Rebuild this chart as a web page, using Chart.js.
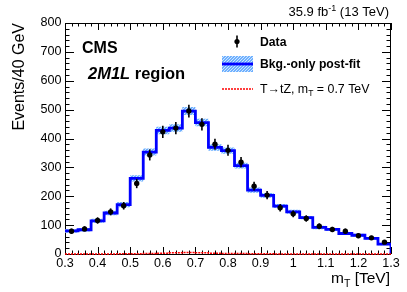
<!DOCTYPE html>
<html>
<head>
<meta charset="utf-8">
<script src="https://cdn.jsdelivr.net/npm/chart.js@4.4.1/dist/chart.umd.min.js"></script>
<style>
  html, body { margin: 0; padding: 0; background: #fff; }
</style>
</head>
<body>
<canvas id="mtChart" width="407" height="292"></canvas>
<script>
// bin edges of the m_T histogram (TeV), 40 GeV wide
const binEdges = [0.30, 0.34, 0.38, 0.42, 0.46, 0.50, 0.54, 0.58, 0.62, 0.66, 0.70, 0.74, 0.78,
                  0.82, 0.86, 0.90, 0.94, 0.98, 1.02, 1.06, 1.10, 1.14, 1.18, 1.22, 1.26, 1.30];
// background-only post-fit prediction, events per bin
const bkgValues = [80, 84, 115, 142, 171, 262, 353, 428, 436, 495, 455, 369, 358, 306, 221,
                   203, 166, 146, 126, 92, 85, 71, 65, 54, 34];
// half-width of the post-fit uncertainty band
const bkgUnc = [6, 6, 7, 8, 9, 11, 12, 13, 13, 14, 13, 11, 11, 10, 9, 8, 7, 7, 6, 6, 5, 5, 5, 4, 4];
// observed data
const dataValues = [79, 87, 116, 146, 167, 244, 343, 423, 436, 495, 449, 380, 359, 318, 235,
                    204, 160, 139, 123, 96, 85, 79, 63, 56, 41];
const dataErrors = [9, 9, 11, 12, 13, 16, 19, 21, 21, 22, 21, 19, 19, 18, 15, 14, 13, 12, 11, 10, 9, 9, 8, 7, 6];
// T -> tZ signal, m_T = 0.7 TeV
const signalValues = [0, 0, 0, 0, 0.5, 1, 2, 3, 4, 5, 4, 3, 2, 1.5, 1, 0.5, 0.3, 0.2, 0.1, 0, 0, 0, 0, 0, 0];

const xTickLabels = ['0.3', '0.4', '0.5', '0.6', '0.7', '0.8', '0.9', '1', '1.1', '1.2', '1.3'];
const yTickLabels = ['0', '100', '200', '300', '400', '500', '600', '700', '800'];

const FONT = '"Liberation Sans", Arial, Helvetica, sans-serif';
const SIG_RED = 'rgb(255, 0, 0)';

function stepPoints(vals) {
  const pts = vals.map((v, i) => ({ x: binEdges[i], y: v }));
  pts.push({ x: binEdges[binEdges.length - 1], y: vals[vals.length - 1] });
  return pts;
}

function makePattern() {
  const c = document.createElement('canvas');
  c.width = 3; c.height = 3;
  const g = c.getContext('2d');
  g.fillStyle = '#6eb0ff';
  g.fillRect(0, 0, 3, 3);
  g.fillStyle = '#cfe6ff';
  g.fillRect(0, 0, 1, 1);
  g.fillRect(2, 1, 1, 1);
  g.fillRect(1, 2, 1, 1);
  return g.createPattern(c, 'repeat');
}
const bandPattern = makePattern();

// draw a run of text pieces (for sub/superscripts)
function drawParts(ctx, parts, x, y, align) {
  let total = 0;
  parts.forEach(p => { ctx.font = p.font; total += ctx.measureText(p.t).width; });
  let cx = align === 'right' ? x - total : x;
  ctx.textAlign = 'left';
  ctx.textBaseline = 'alphabetic';
  parts.forEach(p => {
    ctx.font = p.font;
    ctx.fillText(p.t, cx, y + (p.dy || 0));
    cx += ctx.measureText(p.t).width;
  });
}

const decorPlugin = {
  id: 'rootStyle',
  beforeDatasetsDraw(chart) {
    // frame and inward ticks go under the histograms
    const ctx = chart.ctx;
    const a = chart.chartArea;
    const xs = chart.scales.x, ys = chart.scales.y;
    ctx.save();
    ctx.strokeStyle = '#000';
    ctx.lineWidth = 1;
    ctx.strokeRect(a.left + 0.5, a.top + 0.5, a.right - a.left - 1, a.bottom - a.top);

    for (let k = 0; k <= 50; k++) {
      const v = 0.3 + k * 0.02;
      const px = Math.round(xs.getPixelForValue(v)) + 0.5;
      const len = k % 5 === 0 ? 7 : 3.5;
      ctx.beginPath();
      ctx.moveTo(px, a.bottom); ctx.lineTo(px, a.bottom - len);
      ctx.moveTo(px, a.top); ctx.lineTo(px, a.top + len);
      ctx.stroke();
    }
    for (let k = 0; k <= 40; k++) {
      const v = k * 20;
      const py = Math.round(ys.getPixelForValue(v)) + 0.5;
      const len = k % 5 === 0 ? 9 : 4.5;
      ctx.beginPath();
      ctx.moveTo(a.left, py); ctx.lineTo(a.left + len, py);
      ctx.moveTo(a.right, py); ctx.lineTo(a.right - len, py);
      ctx.stroke();
    }
    ctx.restore();
  },
  afterDatasetsDraw(chart) {
    const ctx = chart.ctx;
    const xs = chart.scales.x, ys = chart.scales.y;
    // data error bars
    ctx.save();
    ctx.strokeStyle = '#000';
    ctx.lineWidth = 1.6;
    dataValues.forEach((v, i) => {
      const px = xs.getPixelForValue((binEdges[i] + binEdges[i + 1]) / 2);
      ctx.beginPath();
      ctx.moveTo(px, ys.getPixelForValue(v - dataErrors[i]));
      ctx.lineTo(px, ys.getPixelForValue(v + dataErrors[i]));
      ctx.stroke();
    });
    ctx.restore();
  },
  afterDraw(chart) {
    const ctx = chart.ctx;
    const xs = chart.scales.x, ys = chart.scales.y;
    ctx.save();
    ctx.fillStyle = '#000';

    // tick labels
    ctx.font = '12.6px ' + FONT;
    ctx.textAlign = 'center';
    ctx.textBaseline = 'alphabetic';
    xTickLabels.forEach(t => {
      ctx.fillText(t, xs.getPixelForValue(parseFloat(t)), 267);
    });
    ctx.textAlign = 'right';
    ctx.textBaseline = 'middle';
    yTickLabels.forEach(t => {
      ctx.fillText(t, 61.5, ys.getPixelForValue(parseFloat(t)));
    });

    // axis titles
    drawParts(ctx, [
      { t: 'm', font: '15.5px ' + FONT },
      { t: 'T', font: '10.5px ' + FONT, dy: 4 },
      { t: ' [TeV]', font: '15.5px ' + FONT }
    ], 390, 283, 'right');
    ctx.save();
    ctx.translate(24, 23);
    ctx.rotate(-Math.PI / 2);
    ctx.font = '16px ' + FONT;
    ctx.textAlign = 'right';
    ctx.textBaseline = 'alphabetic';
    ctx.fillText('Events/40 GeV', 0, 0);
    ctx.restore();

    // luminosity label
    drawParts(ctx, [
      { t: '35.9 fb', font: '13px ' + FONT },
      { t: '-1', font: '9px ' + FONT, dy: -5 },
      { t: ' (13 TeV)', font: '13px ' + FONT }
    ], 389, 16, 'right');

    // CMS + region
    drawParts(ctx, [{ t: 'CMS', font: 'bold 16px ' + FONT }], 82, 52.5, 'left');
    drawParts(ctx, [
      { t: '2M1L', font: 'italic bold 16.5px ' + FONT },
      { t: ' region', font: 'bold 16.5px ' + FONT }
    ], 88, 78.5, 'left');

    // legend
    ctx.beginPath();
    ctx.arc(237, 41.5, 2.6, 0, Math.PI * 2);
    ctx.fill();
    ctx.strokeStyle = '#000';
    ctx.lineWidth = 1.6;
    ctx.beginPath();
    ctx.moveTo(237, 35.5); ctx.lineTo(237, 47.5);
    ctx.stroke();
    drawParts(ctx, [{ t: 'Data', font: 'bold 12.2px ' + FONT }], 260, 45.5, 'left');

    ctx.fillStyle = bandPattern;
    ctx.fillRect(222, 56, 31, 16);
    ctx.strokeStyle = '#0000ff';
    ctx.lineWidth = 2.8;
    ctx.beginPath();
    ctx.moveTo(222, 64); ctx.lineTo(253, 64);
    ctx.stroke();
    ctx.fillStyle = '#000';
    drawParts(ctx, [{ t: 'Bkg.-only post-fit', font: 'bold 12.2px ' + FONT }], 260, 68, 'left');

    ctx.strokeStyle = SIG_RED;
    ctx.lineWidth = 1.5;
    ctx.setLineDash([2, 1]);
    ctx.beginPath();
    ctx.moveTo(222, 89); ctx.lineTo(253, 89);
    ctx.stroke();
    ctx.setLineDash([]);
    ctx.fillStyle = '#000';
    drawParts(ctx, [
      { t: 'T\u2192tZ, m', font: '12.4px ' + FONT },
      { t: 'T', font: '8.5px ' + FONT, dy: 3.5 },
      { t: ' = 0.7 TeV', font: '12.4px ' + FONT }
    ], 260, 92.5, 'left');
    ctx.restore();
  }
};

const bkgLine = stepPoints(bkgValues);
bkgLine.push({ x: binEdges[binEdges.length - 1], y: 0 });

new Chart(document.getElementById('mtChart'), {
  type: 'line',
  data: {
    datasets: [
      { // lower edge of uncertainty band
        data: stepPoints(bkgValues.map((v, i) => v - bkgUnc[i])),
        stepped: true, borderWidth: 0, pointRadius: 0, fill: false, order: 5
      },
      { // upper edge, filled down to lower edge
        data: stepPoints(bkgValues.map((v, i) => v + bkgUnc[i])),
        stepped: true, borderWidth: 0, pointRadius: 0, fill: '-1',
        backgroundColor: bandPattern, order: 4
      },
      { // background post-fit
        data: bkgLine,
        stepped: true, borderColor: '#0000ff', borderWidth: 2.8, pointRadius: 0, fill: false, order: 3
      },
      { // signal
        data: stepPoints(signalValues),
        stepped: true, borderColor: SIG_RED, borderWidth: 1.5, borderDash: [2, 1],
        pointRadius: 0, fill: false, order: 2, clip: 4
      },
      { // data
        data: dataValues.map((v, i) => ({ x: (binEdges[i] + binEdges[i + 1]) / 2, y: v })),
        showLine: false, pointRadius: 2.7, pointBackgroundColor: '#000', pointBorderWidth: 0,
        borderColor: '#000', order: 1
      }
    ]
  },
  options: {
    responsive: false,
    animation: false,
    devicePixelRatio: 1,
    layout: { padding: { left: 65, right: 16, top: 23, bottom: 38 } },
    plugins: { legend: { display: false }, tooltip: { enabled: false } },
    scales: {
      x: { type: 'linear', min: 0.3, max: 1.3, display: false },
      y: { type: 'linear', min: 0, max: 800, display: false }
    }
  },
  plugins: [decorPlugin]
});
</script>
</body>
</html>
